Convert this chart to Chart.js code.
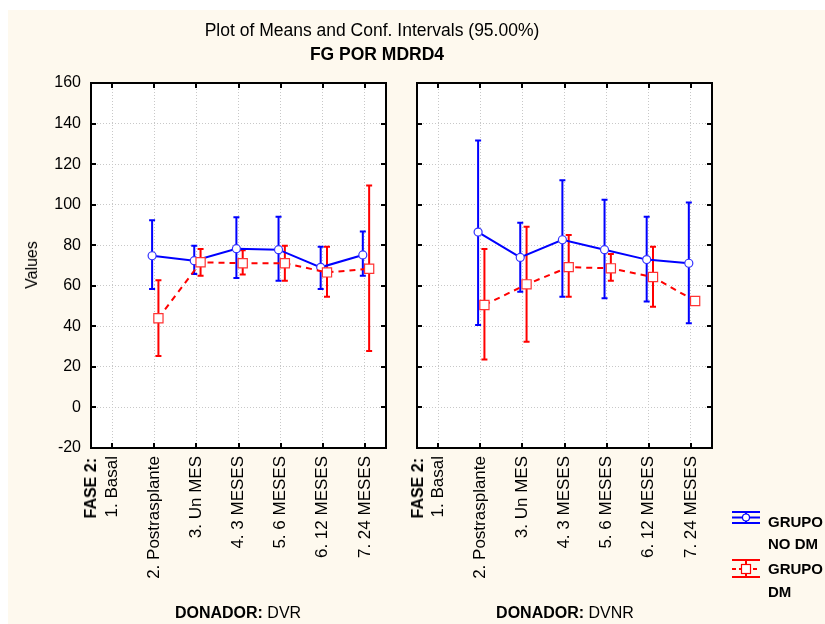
<!DOCTYPE html>
<html>
<head>
<meta charset="utf-8">
<script src="https://cdn.jsdelivr.net/npm/chart.js@4.4.0/dist/chart.umd.min.js"></script>
<style>
  html, body { margin: 0; padding: 0; background: #fff; }
  #page { position: relative; width: 825px; height: 624px; overflow: hidden; font-family: 'Liberation Sans', Arial, sans-serif; color: #000; }
  #bg { position: absolute; left: 8px; top: 10px; right: 0; bottom: 0; background: #fef9ee; }
  canvas { position: absolute; top: 0; }
  .t { position: absolute; white-space: nowrap; line-height: 1; }
  .rot { transform-origin: 0 0; }
</style>
</head>
<body>
<div id="page">
  <div id="bg"></div>
  <canvas id="dvrChart" width="400" height="624" style="left:0"></canvas>
  <canvas id="dvnrChart" width="330" height="624" style="left:400px"></canvas>

  <div class="t" style="left:372px;top:31px;font-size:17.5px;transform:translate(-50%,-50%)">Plot of Means and Conf. Intervals (95.00%)</div>
  <div class="t" style="left:377px;top:55px;font-size:17.5px;font-weight:bold;transform:translate(-50%,-50%)">FG POR MDRD4</div>

  <div class="t rot" style="left:32px;top:265px;font-size:16px;transform:rotate(-90deg) translate(-50%,-50%)">Values</div>

  <div class="t rot" style="left:91px;top:458px;font-size:16px;font-weight:bold;transform:rotate(-90deg) translate(-100%,-50%)">FASE 2:</div>
  <div class="t rot" style="left:418px;top:458px;font-size:16px;font-weight:bold;transform:rotate(-90deg) translate(-100%,-50%)">FASE 2:</div>

  <div class="t" style="left:238px;top:613px;font-size:16px;transform:translate(-50%,-50%)"><b>DONADOR:</b> DVR</div>
  <div class="t" style="left:565px;top:613px;font-size:16px;transform:translate(-50%,-50%)"><b>DONADOR:</b> DVNR</div>

  <svg style="position:absolute;left:0;top:0" width="825" height="624">
    <g stroke="#0000ff" stroke-width="2" fill="none">
      <line x1="732" y1="512" x2="760" y2="512"/>
      <line x1="732" y1="523" x2="760" y2="523"/>
      <line x1="746" y1="512" x2="746" y2="523"/>
      <line x1="732" y1="517.5" x2="760" y2="517.5"/>
      <circle cx="746" cy="517.5" r="3.5" fill="#fff" stroke-width="1.2"/>
    </g>
    <g stroke="#ff0000" stroke-width="2" fill="none">
      <line x1="732" y1="560" x2="760" y2="560"/>
      <line x1="732" y1="577" x2="760" y2="577"/>
      <line x1="746" y1="560" x2="746" y2="577"/>
      <line x1="732" y1="569" x2="760" y2="569" stroke-dasharray="4,3"/>
      <rect x="741.5" y="564.5" width="9" height="9" fill="#fff" stroke-width="1.2"/>
    </g>
  </svg>
  <div class="t" style="left:768px;top:521px;font-size:15px;font-weight:bold;transform:translateY(-50%)">GRUPO</div>
  <div class="t" style="left:768px;top:543px;font-size:15px;font-weight:bold;transform:translateY(-50%)">NO DM</div>
  <div class="t" style="left:768px;top:568px;font-size:15px;font-weight:bold;transform:translateY(-50%)">GRUPO</div>
  <div class="t" style="left:768px;top:591px;font-size:15px;font-weight:bold;transform:translateY(-50%)">DM</div>
</div>

<script>
// ====== data ======
const categories = ['1. Basal', '2. Postrasplante', '3. Un MES', '4. 3 MESES', '5. 6 MESES', '6. 12 MESES', '7. 24 MESES'];

const yMin = -20, yMax = 160, yStep = 20;

// DONADOR: DVR
const dvrNoDmMean = [null, 74.8, 72.4, 78.3, 77.8, 69.1, 75.2];
const dvrNoDmLow  = [null, 58.4, 65.8, 63.8, 62.5, 58.4, 65.0];
const dvrNoDmHigh = [null, 92.3, 79.8, 93.8, 94.1, 79.3, 86.8];
const dvrDmMean   = [null, 44.0, 71.6, 71.1, 71.1, 66.6, 68.4];
const dvrDmLow    = [null, 25.4, 65.0, 65.6, 62.5, 54.6, 27.8];
const dvrDmHigh   = [null, 62.7, 78.1, 77.5, 79.8, 79.3, 109.5];

// DONADOR: DVNR
const dvnrNoDmMean = [null, 86.5, 74.0, 82.7, 77.8, 72.9, 71.1];
const dvnrNoDmLow  = [null, 40.7, 57.1, 54.6, 53.8, 52.2, 41.5];
const dvnrNoDmHigh = [null, 131.7, 91.1, 112.1, 102.4, 94.1, 101.1];
const dvnrDmMean   = [null, 50.5, 60.7, 69.2, 68.6, 64.3, 52.5];
const dvnrDmLow    = [null, 23.7, 32.4, 54.6, 62.5, 49.7, null];
const dvnrDmHigh   = [null, 78.1, 89.1, 85.0, 75.7, 79.3, null];

const BLUE = '#0000ff', RED = '#ff0000';

// white plot area + black frame + inward tick marks
const framePlugin = {
  id: 'frame',
  beforeDraw(chart) {
    const a = chart.chartArea, ctx = chart.ctx;
    ctx.save();
    ctx.fillStyle = '#fff';
    ctx.fillRect(a.left, a.top, a.right - a.left, a.bottom - a.top);
    ctx.restore();
  },
  afterDraw(chart) {
    const a = chart.chartArea, ctx = chart.ctx;
    const xs = chart.scales.x, ys = chart.scales.y;
    ctx.save();
    ctx.strokeStyle = '#000';
    ctx.lineWidth = 2;
    ctx.beginPath();
    xs.ticks.forEach(t => {
      const px = Math.round(xs.getPixelForValue(t.value));
      ctx.moveTo(px, a.bottom); ctx.lineTo(px, a.bottom - 5);
      ctx.moveTo(px, a.top); ctx.lineTo(px, a.top + 5);
    });
    ys.ticks.forEach(t => {
      if (t.value <= yMin || t.value >= yMax) return;
      const py = Math.round(ys.getPixelForValue(t.value));
      ctx.moveTo(a.left, py); ctx.lineTo(a.left + 5, py);
      ctx.moveTo(a.right, py); ctx.lineTo(a.right - 5, py);
    });
    ctx.stroke();
    ctx.strokeRect(a.left, a.top, a.right - a.left, a.bottom - a.top);
    ctx.restore();
  }
};

// vertical confidence bars with caps
const errorBarPlugin = {
  id: 'errorBars',
  beforeDatasetsDraw(chart) {
    const ctx = chart.ctx, ys = chart.scales.y;
    chart.data.datasets.forEach((ds, di) => {
      const meta = chart.getDatasetMeta(di);
      ctx.save();
      ctx.strokeStyle = ds.borderColor;
      ctx.lineWidth = 2;
      ctx.beginPath();
      meta.data.forEach((pt, i) => {
        const lo = ds.low[i], hi = ds.high[i];
        if (lo == null || hi == null || ds.data[i].y == null) return;
        const x = pt.x, y1 = ys.getPixelForValue(lo), y2 = ys.getPixelForValue(hi);
        ctx.moveTo(x, y1); ctx.lineTo(x, y2);
        ctx.moveTo(x - 3, y1); ctx.lineTo(x + 3, y1);
        ctx.moveTo(x - 3, y2); ctx.lineTo(x + 3, y2);
      });
      ctx.stroke();
      ctx.restore();
    });
  }
};

function makePanel(id, noDm, dm, showY, yWidth, padRight) {
  const ctx = document.getElementById(id).getContext('2d');
  return new Chart(ctx, {
    type: 'line',
    data: {
      datasets: [
        {
          label: 'GRUPO NO DM',
          data: noDm.mean.map((v, i) => ({ x: i + 1 - 0.05, y: v })),
          low: noDm.low, high: noDm.high,
          borderColor: BLUE, borderWidth: 2,
          pointStyle: 'circle', pointRadius: 4, pointBorderWidth: 1.2,
          pointBackgroundColor: '#fff', pointBorderColor: '#3333ff',
          order: 1
        },
        {
          label: 'GRUPO DM',
          data: dm.mean.map((v, i) => ({ x: i + 1 + 0.1, y: v })),
          low: dm.low, high: dm.high,
          borderColor: RED, borderWidth: 2, borderDash: [6, 5],
          pointStyle: 'rect', pointRadius: 6.5, pointBorderWidth: 1.2,
          pointBackgroundColor: '#fff', pointBorderColor: '#ff3333',
          order: 0
        }
      ]
    },
    options: {
      responsive: false,
      animation: false,
      layout: { padding: { top: 83, right: padRight, bottom: 0, left: 0 } },
      plugins: { legend: { display: false }, tooltip: { enabled: false } },
      scales: {
        x: {
          type: 'linear', min: 0.5, max: 7.5,
          afterBuildTicks: s => { s.ticks = categories.map((c, i) => ({ value: i + 1 })); },
          afterFit: s => { s.height = 176; },
          ticks: {
            callback: v => categories[v - 1],
            minRotation: 90, maxRotation: 90, autoSkip: false,
            padding: 8, color: '#000',
            font: { family: "'Liberation Sans', Arial, sans-serif", size: 17 }
          },
          grid: { color: '#c8c8c8', drawTicks: false, lineWidth: 1 },
          border: { display: false, dash: [1, 2] }
        },
        y: {
          min: yMin, max: yMax,
          afterFit: s => { s.width = yWidth; },
          ticks: {
            stepSize: yStep, display: showY, padding: 10, color: '#000',
            font: { family: "'Liberation Sans', Arial, sans-serif", size: 16 }
          },
          grid: { color: '#c8c8c8', drawTicks: false, lineWidth: 1 },
          border: { display: false, dash: [1, 2] }
        }
      }
    },
    plugins: [framePlugin, errorBarPlugin]
  });
}

makePanel('dvrChart',
  { mean: dvrNoDmMean, low: dvrNoDmLow, high: dvrNoDmHigh },
  { mean: dvrDmMean, low: dvrDmLow, high: dvrDmHigh },
  true, 91, 14);

makePanel('dvnrChart',
  { mean: dvnrNoDmMean, low: dvnrNoDmLow, high: dvnrNoDmHigh },
  { mean: dvnrDmMean, low: dvnrDmLow, high: dvnrDmHigh },
  false, 17, 18);
</script>
</body>
</html>
